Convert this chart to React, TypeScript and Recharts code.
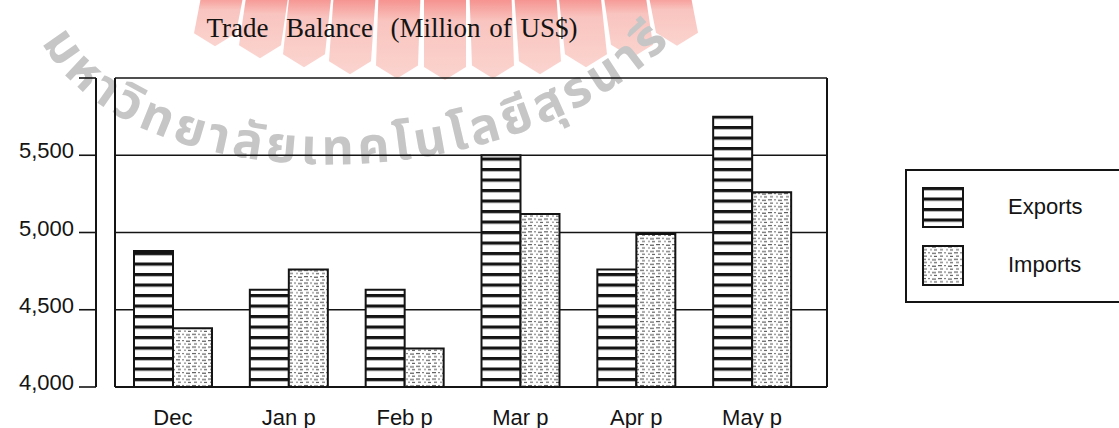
import React from 'react';
import { BarChart, Bar, XAxis, YAxis, CartesianGrid, Legend } from 'recharts';

const categories = ['Dec', 'Jan p', 'Feb p', 'Mar p', 'Apr p', 'May p'];
const exportsValues = [4880, 4630, 4630, 5500, 4760, 5750];
const importsValues = [4380, 4760, 4250, 5120, 4990, 5260];
const yTicks = [4000, 4500, 5000, 5500, 6000];
const yTickLabels = ['4,000', '4,500', '5,000', '5,500', ''];
const seriesNames = ['Exports', 'Imports'];
const titleText = 'Trade  Balance  (Million of US$)';
const watermarkText = 'มหาวิทยาลัยเทคโนโลยีสุรนารี';
const rayCenters = [215, 260, 304, 350, 397, 445, 493, 540, 586, 632, 677];

const data = categories.map((c, i) => ({
  name: c,
  exports: exportsValues[i],
  imports: importsValues[i],
}));

const SANS = '"Liberation Sans", Arial, sans-serif';
const SERIF = '"Liberation Serif", "Times New Roman", serif';
const INK = '#141414';

const YTick = (props: any) => {
  const { x, y, payload } = props;
  const idx = yTicks.indexOf(payload.value);
  return (
    <text x={x} y={y} dy={3} textAnchor="end" fontSize={22} fontFamily={SANS} fill={INK}>
      {idx >= 0 ? yTickLabels[idx] : ''}
    </text>
  );
};

const XTick = (props: any) => {
  const { x, y, payload } = props;
  return (
    <text x={x} y={y} dy={38} textAnchor="middle" fontSize={22} fontFamily={SANS} fill={INK}>
      {payload.value}
    </text>
  );
};

const Swatch = ({ pattern }: { pattern: string }) => (
  <svg width={42} height={41} style={{ position: 'absolute', left: 0, top: 0 }}>
    <rect x={1} y={1} width={40} height={39} fill={`url(#${pattern})`} stroke={INK} strokeWidth={2} />
  </svg>
);

const LegendBox = () => (
  <div
    style={{
      position: 'relative',
      width: 240,
      height: 134,
      border: `2px solid ${INK}`,
      boxSizing: 'border-box',
      background: '#fff',
    }}
  >
    {seriesNames.map((n, i) => (
      <div key={n} style={{ position: 'absolute', left: 15, top: 16 + i * 58, width: 200, height: 41 }}>
        <Swatch pattern={i === 0 ? 'expPat' : 'impPat'} />
        <div
          style={{
            position: 'absolute',
            left: 86,
            top: 6,
            fontFamily: SANS,
            fontSize: 22,
            color: INK,
            lineHeight: '28px',
          }}
        >
          {n}
        </div>
      </div>
    ))}
  </div>
);

const Watermark = () => {
  const apexY = -1500;
  return (
    <svg width={1119} height={428} style={{ position: 'absolute', left: 0, top: 0 }}>
      <defs>
        <linearGradient id="rayGrad" x1="0" y1="0" x2="0" y2="1">
          <stop offset="0%" stopColor="#f47c7a" />
          <stop offset="35%" stopColor="#f9c4bf" />
          <stop offset="100%" stopColor="#fbd4cf" />
        </linearGradient>
        <path id="wmArc" d="M 42 42 C 130 210, 560 215, 710 -5" />
      </defs>
      {rayCenters.map((cx) => {
        const tipY = 80 - Math.pow(cx - 445, 2) / 1570;
        const half = 21;
        const topShift = ((cx - 445) * (tipY + 10)) / (tipY - apexY);
        const p = [
          [cx - half - topShift, -10],
          [cx + half - topShift, -10],
          [cx + half, tipY - 13],
          [cx, tipY],
          [cx - half, tipY - 13],
        ];
        return (
          <polygon
            key={cx}
            points={p.map((q) => q.join(',')).join(' ')}
            fill="url(#rayGrad)"
          />
        );
      })}
      <text
        fontFamily='"Noto Sans Thai", "Noto Sans", "DejaVu Sans", sans-serif'
        fontWeight="bold"
        fontSize={50}
        letterSpacing={4.5}
        fill="#c6c6c6"
      >
        <textPath href="#wmArc">{watermarkText}</textPath>
      </text>
      <text
        x={392}
        y={37}
        textAnchor="middle"
        fontFamily={SERIF}
        fontSize={27}
        wordSpacing={2}
        style={{ whiteSpace: 'pre' }}
        fill={INK}
      >
        {titleText}
      </text>
    </svg>
  );
};

export default function App() {
  return (
    <div style={{ position: 'absolute', left: 0, top: 0, width: 1119, height: 428, overflow: 'hidden', background: '#fff' }}>
      <Watermark />
      <div style={{ position: 'absolute', left: 0, top: 0 }}>
        <BarChart
          width={1119}
          height={428}
          data={data}
          margin={{ top: 78, right: 291, bottom: 0, left: 0 }}
          barGap={0}
          barSize={39}
        >
          <defs>
            <pattern id="expPat" patternUnits="userSpaceOnUse" width={10} height={10.5}>
              <rect x={0} y={0} width={10} height={10.5} fill="#fff" />
              <rect x={0} y={0} width={10} height={3.2} fill={INK} />
            </pattern>
            <pattern id="impPat" patternUnits="userSpaceOnUse" width={16} height={6.4}>
              <rect x={0} y={0} width={16} height={6.4} fill="#fff" />
              <rect x={0} y={1} width={4} height={1} fill="#444" />
              <rect x={6} y={1} width={2} height={1} fill="#666" />
              <rect x={10} y={1.5} width={4} height={1} fill="#444" />
              <rect x={2} y={4.2} width={3} height={1} fill="#555" />
              <rect x={8} y={4.2} width={2} height={1} fill="#777" />
              <rect x={12} y={4.4} width={3} height={1} fill="#444" />
            </pattern>
          </defs>
          <CartesianGrid
            yAxisId="main"
            vertical={false}
            stroke={INK}
            strokeWidth={1.6}
            fill="none"
          />
          <XAxis
            dataKey="name"
            interval={0}
            height={41}
            padding={{ left: 0, right: 17 }}
            axisLine={{ stroke: INK, strokeWidth: 2 }}
            tickLine={false}
            tickSize={0}
            tickMargin={0}
            tick={<XTick />}
          />
          <YAxis
            yAxisId="inner"
            width={19}
            domain={[4000, 6000]}
            ticks={yTicks}
            allowDataOverflow
            tick={false}
            tickSize={19}
            tickLine={{ stroke: INK, strokeWidth: 1.6 }}
            axisLine={{ stroke: INK, strokeWidth: 2 }}
          />
          <YAxis
            yAxisId="main"
            width={96}
            domain={[4000, 6000]}
            ticks={yTicks}
            allowDataOverflow
            tickSize={17}
            tickMargin={5}
            tick={<YTick />}
            tickLine={{ stroke: INK, strokeWidth: 1.6 }}
            axisLine={{ stroke: INK, strokeWidth: 2 }}
          />
          <YAxis
            yAxisId="right"
            orientation="right"
            width={1}
            domain={[4000, 6000]}
            allowDataOverflow
            tick={false}
            tickLine={false}
            axisLine={{ stroke: INK, strokeWidth: 2 }}
          />
          <Legend
            layout="vertical"
            align="center"
            verticalAlign="middle"
            wrapperStyle={{ left: 905, top: 169, width: 240, height: 134 }}
            content={<LegendBox />}
          />
          <Bar
            yAxisId="main"
            dataKey="exports"
            name={seriesNames[0]}
            fill="url(#expPat)"
            stroke={INK}
            strokeWidth={2}
            isAnimationActive={false}
          />
          <Bar
            yAxisId="main"
            dataKey="imports"
            name={seriesNames[1]}
            fill="url(#impPat)"
            stroke={INK}
            strokeWidth={2}
            isAnimationActive={false}
          />
        </BarChart>
      </div>
    </div>
  );
}
